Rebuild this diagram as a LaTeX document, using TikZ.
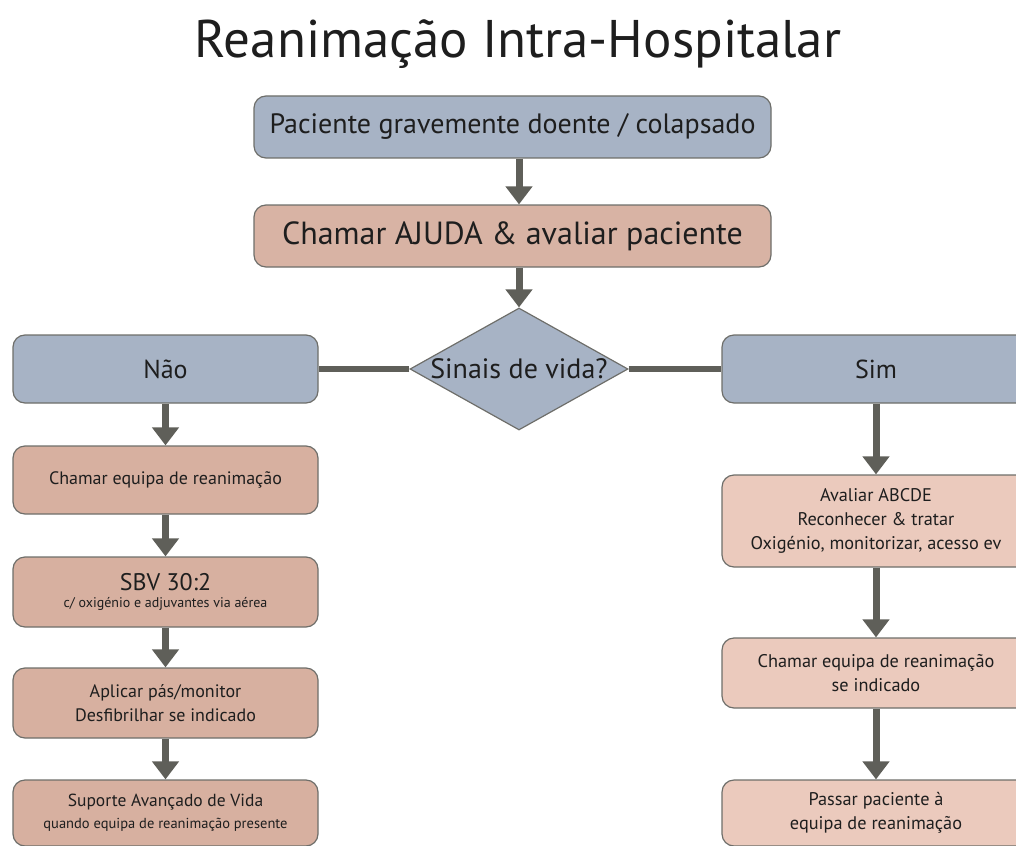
\documentclass[tikz,border=0pt]{standalone}
\usepackage{fontspec}
\setmainfont{PT Sans}
\usetikzlibrary{shapes.geometric,arrows.meta}
\definecolor{bluebox}{HTML}{A7B3C5}
\definecolor{pinkbox}{HTML}{D8B3A4}
\definecolor{lpink}{HTML}{D7B0A0}
\definecolor{rpink}{HTML}{EBCABD}
\definecolor{edge}{HTML}{6E6E6A}
\definecolor{arr}{HTML}{5F5F59}
\definecolor{txt}{HTML}{1E1E1E}
\tikzset{
  box/.style={draw=edge, line width=1.2pt, rounded corners=12pt, text=txt, align=center, inner sep=0pt},
  bluenode/.style={box, fill=bluebox},
  toppink/.style={box, fill=pinkbox},
  leftbox/.style={box, fill=lpink, minimum width=305pt},
  rightbox/.style={box, fill=rpink, minimum width=308pt},
  flow/.style={draw=arr, line width=7pt, -{Triangle[width=26pt,length=18pt]}},
  link/.style={draw=arr, line width=6pt},
}
\begin{document}
\begin{tikzpicture}[x=1pt,y=-1pt]
\useasboundingbox (0,0) rectangle (1016,845);
\clip (0,0) rectangle (1016,845);
\node[text=txt, font=\fontsize{53}{58}\selectfont] (title) at (518,44) {Reanimação Intra-Hospitalar};

\node[bluenode, minimum width=517pt, minimum height=62pt, font=\fontsize{28}{32}\selectfont] (p) at (512.5,127) {Paciente gravemente doente / colapsado};
\node[toppink, minimum width=517pt, minimum height=62pt, font=\fontsize{32}{36}\selectfont] (c) at (512.5,236) {Chamar AJUDA \& avaliar paciente};
\node[diamond, draw=edge, line width=1.2pt, fill=bluebox, minimum width=218pt, minimum height=122pt, inner sep=0pt,
      label={[text=txt, font=\fontsize{28}{32}\selectfont]center:Sinais de vida?}] (d) at (519,369) {};

\node[bluenode, minimum width=305pt, minimum height=68pt, font=\fontsize{26}{30}\selectfont] (nao) at (165.5,369) {Não};
\node[bluenode, minimum width=308pt, minimum height=68pt, font=\fontsize{26}{30}\selectfont] (sim) at (876,369) {Sim};

\node[leftbox, minimum height=68pt, font=\fontsize{18}{22}\selectfont] (l1) at (165.5,480) {Chamar equipa de reanimação};
\node[leftbox, minimum height=70pt, font=\fontsize{14}{16}\selectfont] (l2) at (165.5,592) {{\fontsize{24}{26}\selectfont SBV 30:2}\\[1pt]c/ oxigénio e adjuvantes via aérea};
\node[leftbox, minimum height=70pt, font=\fontsize{18}{24}\selectfont] (l3) at (165.5,703) {Aplicar pás/monitor\\Desfibrilhar se indicado};
\node[leftbox, minimum height=66pt, font=\fontsize{14.5}{17}\selectfont] (l4) at (165.5,813) {{\fontsize{17.5}{20}\selectfont Suporte Avançado de Vida}\\[5pt]quando equipa de reanimação presente};

\node[rightbox, minimum height=92pt, font=\fontsize{18.3}{24}\selectfont] (r1) at (876,521) {Avaliar ABCDE\\Reconhecer \& tratar\\Oxigénio, monitorizar, acesso ev};
\node[rightbox, minimum height=70pt, font=\fontsize{18.3}{24}\selectfont] (r2) at (876,673) {Chamar equipa de reanimação\\se indicado};
\node[rightbox, minimum height=66pt, font=\fontsize{18.3}{24}\selectfont] (r3) at (876,813) {Passar paciente à\\equipa de reanimação};

\draw[flow] (p.south -| d.north) -- (c.north -| d.north);
\draw[flow] (c.south -| d.north) -- (d.north);
\draw[link] (d.west) -- (nao.east);
\draw[link] (d.east) -- (sim.west);
\draw[flow] (nao.south) -- (l1.north);
\draw[flow] (l1.south) -- (l2.north);
\draw[flow] (l2.south) -- (l3.north);
\draw[flow] (l3.south) -- (l4.north);
\draw[flow] (sim.south) -- (r1.north);
\draw[flow] (r1.south) -- (r2.north);
\draw[flow] (r2.south) -- (r3.north);
\end{tikzpicture}
\end{document}
